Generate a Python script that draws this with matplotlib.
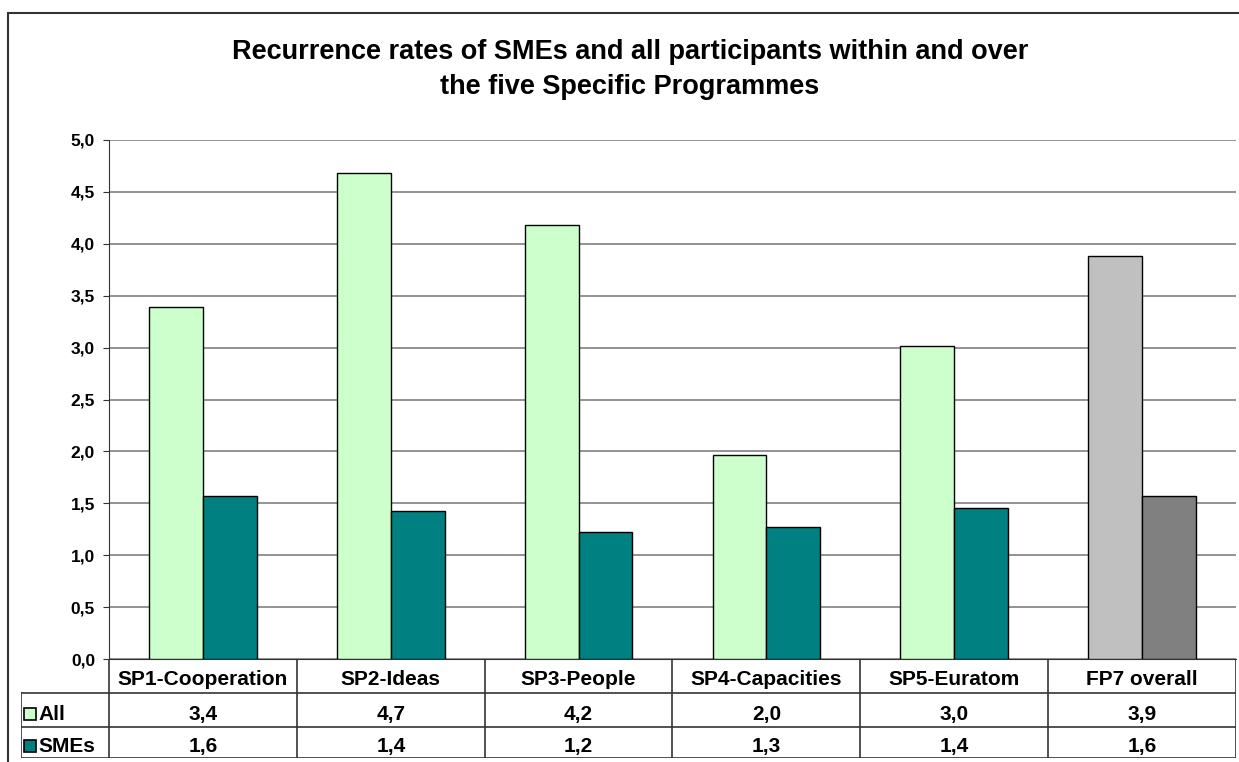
import matplotlib
matplotlib.use("Agg")
import matplotlib.pyplot as plt
from matplotlib.patches import Rectangle
from matplotlib.lines import Line2D

plt.rcParams["font.family"] = ["Liberation Sans", "DejaVu Sans"]
plt.rcParams["font.weight"] = "bold"

# Data
categories = ["SP1-Cooperation", "SP2-Ideas", "SP3-People", "SP4-Capacities",
              "SP5-Euratom", "FP7 overall"]
all_values = [3.39, 4.68, 4.18, 1.97, 3.02, 3.88]
sme_values = [1.57, 1.43, 1.22, 1.27, 1.45, 1.57]
series_names = ["All", "SMEs"]
y_ticks = [0.0, 0.5, 1.0, 1.5, 2.0, 2.5, 3.0, 3.5, 4.0, 4.5, 5.0]

all_colors = ["#CCFFCC"] * 5 + ["#C0C0C0"]
sme_colors = ["#008080"] * 5 + ["#808080"]

W, H = 1239, 762
fig = plt.figure(figsize=(W / 100, H / 100), dpi=100)


def fx(px):
    return px / W


def fy(py):
    return 1 - py / H


# outer chart border (cropped on the right and bottom)
fig.add_artist(Rectangle((fx(8), fy(800)), fx(1300) - fx(8), fy(13) - fy(800),
                         transform=fig.transFigure, fill=False,
                         edgecolor="#333333", linewidth=1.5))

fig.text(fx(630), fy(52), "Recurrence rates of SMEs and all participants within and over",
         ha="center", va="center", fontsize=19.5, fontweight="bold")
fig.text(fx(630), fy(87), "the five Specific Programmes",
         ha="center", va="center", fontsize=19.5, fontweight="bold")

# main plot
left, right, top, bottom = 109, 1236, 140, 659
ax = fig.add_axes([fx(left), fy(bottom), fx(right) - fx(left), fy(top) - fy(bottom)])
x = range(len(categories))
bw = 0.287
ax.bar([i - bw / 2 for i in x], all_values, bw, color=all_colors,
       edgecolor="black", linewidth=1, zorder=3)
ax.bar([i + bw / 2 for i in x], sme_values, bw, color=sme_colors,
       edgecolor="black", linewidth=1, zorder=3)
ax.set_xlim(-0.5, len(categories) - 0.5)
ax.set_ylim(0, 5)
ax.set_yticks(y_ticks)
ax.set_yticklabels([f"{t:.1f}".replace(".", ",") for t in y_ticks],
                   fontsize=12.5, fontweight="bold")
ax.set_xticks([])
ax.yaxis.grid(True, color="#808080", linewidth=1.2)
ax.set_axisbelow(True)
for s in ["top", "right"]:
    ax.spines[s].set_visible(False)
ax.spines["left"].set_color("#333333")
ax.spines["bottom"].set_color("#333333")
ax.tick_params(axis="y", length=4.5, color="#333333", pad=5.5)

# data table beneath the plot
tleft, tbottom = 21, 758
cat_px = (right - left) / len(categories)
lab_w = (left - tleft) / cat_px
tax = fig.add_axes([fx(tleft), fy(tbottom), fx(right) - fx(tleft), fy(bottom) - fy(tbottom)])
tax.set_xlim(-0.5 - lab_w, len(categories) - 0.5)
tax.set_ylim(tbottom - bottom, 0)
tax.axis("off")
rows = [0, 34, 68, tbottom - bottom]
lc = "#333333"
# horizontal lines
tax.add_line(Line2D([-0.5, len(categories) - 0.5], [rows[0], rows[0]], color=lc, lw=1.2))
for r in rows[1:]:
    tax.add_line(Line2D([-0.5 - lab_w, len(categories) - 0.5], [r, r], color=lc, lw=1.2))
# vertical lines
for i in range(len(categories) + 1):
    tax.add_line(Line2D([i - 0.5, i - 0.5], [rows[0], rows[3]], color=lc, lw=1.2))
tax.add_line(Line2D([-0.5 - lab_w, -0.5 - lab_w], [rows[1], rows[3]], color=lc, lw=1.2))

tfs = 15
for i, c in enumerate(categories):
    tax.text(i, rows[1] - 8, c, ha="center", va="baseline",
             fontsize=tfs, fontweight="bold")
    tax.text(i, rows[2] - 7, f"{all_values[i]:.1f}".replace(".", ","),
             ha="center", va="baseline", fontsize=tfs, fontweight="bold")
    tax.text(i, rows[3] - 6, f"{sme_values[i]:.1f}".replace(".", ","),
             ha="center", va="baseline", fontsize=tfs, fontweight="bold")

key_w = 12 / cat_px
base_off = [7, 6]
for k, (name, col) in enumerate(zip(series_names, ["#CCFFCC", "#008080"])):
    yb = rows[k + 2] - base_off[k]
    x0 = -0.5 - lab_w + 3 / cat_px
    tax.add_patch(Rectangle((x0, yb - 12), key_w, 12, facecolor=col,
                            edgecolor="black", linewidth=1.2))
    tax.text(x0 + key_w + 2 / cat_px, yb, name, ha="left", va="baseline",
             fontsize=tfs, fontweight="bold")

fig.savefig("out.png", dpi=100)
